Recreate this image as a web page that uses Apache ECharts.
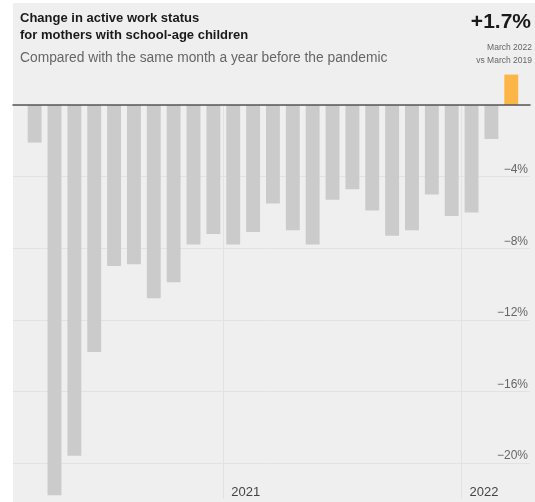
<!DOCTYPE html>
<html>
<head>
<meta charset="utf-8">
<script src="https://cdn.jsdelivr.net/npm/echarts@6/dist/echarts.min.js"></script>
<style>
html,body{margin:0;padding:0;background:#fff;}
#chart{width:535px;height:502px;}
</style>
</head>
<body>
<div id="chart"></div>
<script>
// Data
const months = ['Mar 2020','Apr 2020','May 2020','Jun 2020','Jul 2020','Aug 2020','Sep 2020','Oct 2020','Nov 2020','Dec 2020',
  'Jan 2021','Feb 2021','Mar 2021','Apr 2021','May 2021','Jun 2021','Jul 2021','Aug 2021','Sep 2021','Oct 2021','Nov 2021','Dec 2021',
  'Jan 2022','Feb 2022','Mar 2022'];
const changes = [-2.1, -21.8, -19.6, -13.8, -9.0, -8.9, -10.8, -9.9, -7.8, -7.2,
  -7.8, -7.1, -5.5, -7.0, -7.8, -5.3, -4.7, -5.9, -7.3, -7.0, -5.0, -6.2,
  -6.0, -1.9, 1.7];
const yearTickMonths = ['Jan 2021', 'Jan 2022'];
const titleLines = ['Change in active work status', 'for mothers with school-age children'];
const subtitle = 'Compared with the same month a year before the pandemic';
const bigValue = '+1.7%';
const bigValueNote = ['March 2022', 'vs March 2019'];

const GRAY = '#cbcbcb', ORANGE = '#fcb648';
const FONT = '"Liberation Sans", Arial, sans-serif';
const pxPer = 17.9, zeroY = 105;
const GRID_COLOR = '#e2e2e2';

const chart = echarts.init(document.getElementById('chart'), null, {renderer: 'canvas'});
chart.setOption({
  animation: false,
  backgroundColor: '#ffffff',
  graphic: [
    {type: 'rect', z: -100, silent: true, shape: {x: 13, y: 3, width: 522, height: 499}, style: {fill: '#efefef'}},
    {type: 'text', style: {text: titleLines[0], x: 20, y: 18, textVerticalAlign: 'middle', font: 'bold 13px ' + FONT, fill: '#1a1a1a'}},
    {type: 'text', style: {text: titleLines[1], x: 20, y: 35, textVerticalAlign: 'middle', font: 'bold 13px ' + FONT, fill: '#1a1a1a'}},
    {type: 'text', style: {text: subtitle, x: 20, y: 58, textVerticalAlign: 'middle', font: '13.8px ' + FONT, fill: '#666666'}},
    {type: 'text', style: {text: bigValue, x: 531, y: 22, textAlign: 'right', textVerticalAlign: 'middle', font: 'bold 21px ' + FONT, fill: '#1a1a1a'}},
    {type: 'text', style: {text: bigValueNote[0], x: 532, y: 48, textAlign: 'right', textVerticalAlign: 'middle', font: '8.5px ' + FONT, fill: '#666666'}},
    {type: 'text', style: {text: bigValueNote[1], x: 532, y: 61, textAlign: 'right', textVerticalAlign: 'middle', font: '8.5px ' + FONT, fill: '#666666'}}
  ],
  grid: [
    {left: 24.7, right: 13.8, top: zeroY, bottom: 502 - (zeroY + 22 * pxPer)},
    {left: 13, right: 5, top: zeroY, bottom: 502 - (zeroY + 20 * pxPer)}
  ],
  xAxis: [
    {
      type: 'category', gridIndex: 0, data: months, boundaryGap: true,
      axisLine: {show: false}, axisTick: {show: false},
      splitLine: {show: true, interval: (i, v) => yearTickMonths.indexOf(v) >= 0,
        lineStyle: {color: [GRID_COLOR, GRID_COLOR, 'rgba(0,0,0,0)'], width: 1}},
      axisLabel: {
        inside: true, margin: 0, verticalAlign: 'bottom', align: 'left', padding: [0, 0, 0, -2],
        interval: (i, v) => yearTickMonths.indexOf(v) >= 0,
        formatter: v => v.split(' ')[1],
        color: '#444', fontSize: 13, fontFamily: FONT
      }
    },
    {
      type: 'value', gridIndex: 1, position: 'top', min: 0, max: 1, z: 5,
      axisLine: {show: true, lineStyle: {color: '#555555', width: 1.5}},
      axisTick: {show: false}, axisLabel: {show: false}, splitLine: {show: false}
    }
  ],
  yAxis: [
    {type: 'value', gridIndex: 0, min: -22, max: 0, show: false, splitLine: {show: false}},
    {
      type: 'value', gridIndex: 1, position: 'right', min: -20, max: 0, interval: 4,
      axisLine: {show: false}, axisTick: {show: false},
      splitLine: {show: true, lineStyle: {color: GRID_COLOR, width: 1}},
      axisLabel: {
        inside: true, margin: 2, verticalAlign: 'bottom', padding: [0, 0, 1, 0],
        formatter: v => v === 0 ? '' : (v < 0 ? '\u2212' + Math.abs(v) + '%' : v + '%'),
        color: '#666', fontSize: 12, fontFamily: FONT
      }
    }
  ],
  series: [{
    type: 'bar', xAxisIndex: 0, yAxisIndex: 0, data: changes, clip: false,
    barCategoryGap: '30%',
    itemStyle: {color: p => p.value > 0 ? ORANGE : GRAY},
    z: 2
  }]
});
</script>
</body>
</html>
